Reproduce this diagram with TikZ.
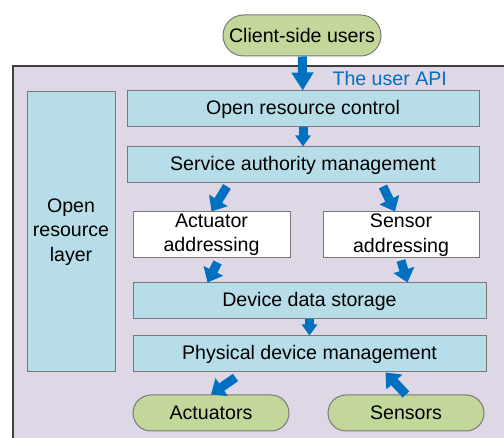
\documentclass[tikz,border=0pt]{standalone}
\usepackage{fontspec}
\setmainfont{Liberation Sans}
\usepackage{tikz}
\usetikzlibrary{positioning,arrows.meta,shapes.misc}
\definecolor{c_frame}{RGB}{221,215,230}
\definecolor{c_layer}{RGB}{183,221,232}
\definecolor{c_user}{RGB}{196,215,155}
\definecolor{c_arrow}{RGB}{0,112,192}
\definecolor{c_line}{RGB}{120,120,120}
\tikzset{c-layer/.style={rectangle, draw=c_line, line width=1pt, fill=c_layer, text centered, minimum height=36pt, inner sep=0pt},
c-addr/.style={c-layer, fill=white, text width=150pt, minimum height=46pt},
c-user/.style={rounded rectangle, draw=c_line, line width=1pt, fill=c_user, minimum height=36pt, inner sep=0pt},
arrow/.style={c_arrow, line width=9pt, -{Triangle[width=21pt,length=13pt]}}}

\begin{document}
\begin{tikzpicture}[x=1pt, y=-1pt, font=\fontsize{19.6}{24.5}\selectfont]
\useasboundingbox (0,0) rectangle (504,438);
\fill [c_frame] (13,66) rectangle (510,445);
\draw [black!75, line width=1.2pt] (510,66) -- (13,66) -- (13,445);
\node (n0) [c-user, minimum width=158pt, minimum height=41pt] at (302,35.5) {Client-side users};
\node (n1) [c-layer, minimum width=352pt] at (303,109) {Open resource control};
\node (n2) [c-layer, minimum width=352pt] at (303,165) {Service authority management};
\node (n3) [c-addr, minimum width=157pt] at (211.5,235) {Actuator\\addressing};
\node (n4) [c-addr, minimum width=156pt] at (401,235) {Sensor\\addressing};
\node (n5) [c-layer, minimum width=353pt] at (309.5,301) {Device data storage};
\node (n6) [c-layer, minimum width=353pt] at (309.5,354) {Physical device management};
\node (n7) [c-user, minimum width=156pt] at (211,413) {Actuators};
\node (n8) [c-user, minimum width=156pt] at (406,413) {Sensors};
\node (n9) [c-layer, minimum width=88pt, minimum height=280pt, text width=86pt] at (71,232) {Open\\resource\\layer};
\node (api) [text=c_arrow, anchor=west] at (329,78) {The user API};
\draw [arrow, -{Triangle[width=21pt,length=18pt]}] (n0) -- (n1);
\draw [arrow, -{Triangle[width=15pt,length=11pt]}] (n1) -- (n2);
\draw [arrow] ([xshift=-76pt, yshift=-3pt]n2.south) -- (n3.north);
\draw [arrow] ([xshift=80pt, yshift=-3pt]n2.south) -- ([xshift=-6pt]n4.north);
\draw [arrow] ([xshift=6pt, yshift=-4pt]n3.south) -- ([xshift=-102pt]n5.north);
\draw [arrow] ([yshift=-2pt]n4.south) -- ([xshift=98pt]n5.north);
\draw [arrow, -{Triangle[width=15pt,length=11pt]}] (n5) -- (n6);
\draw [arrow] ([xshift=-74pt, yshift=-5pt]n6.south) -- (n7.north);
\draw [arrow] (n8.north) -- ([xshift=76pt]n6.south);
\end{tikzpicture}
\end{document}
